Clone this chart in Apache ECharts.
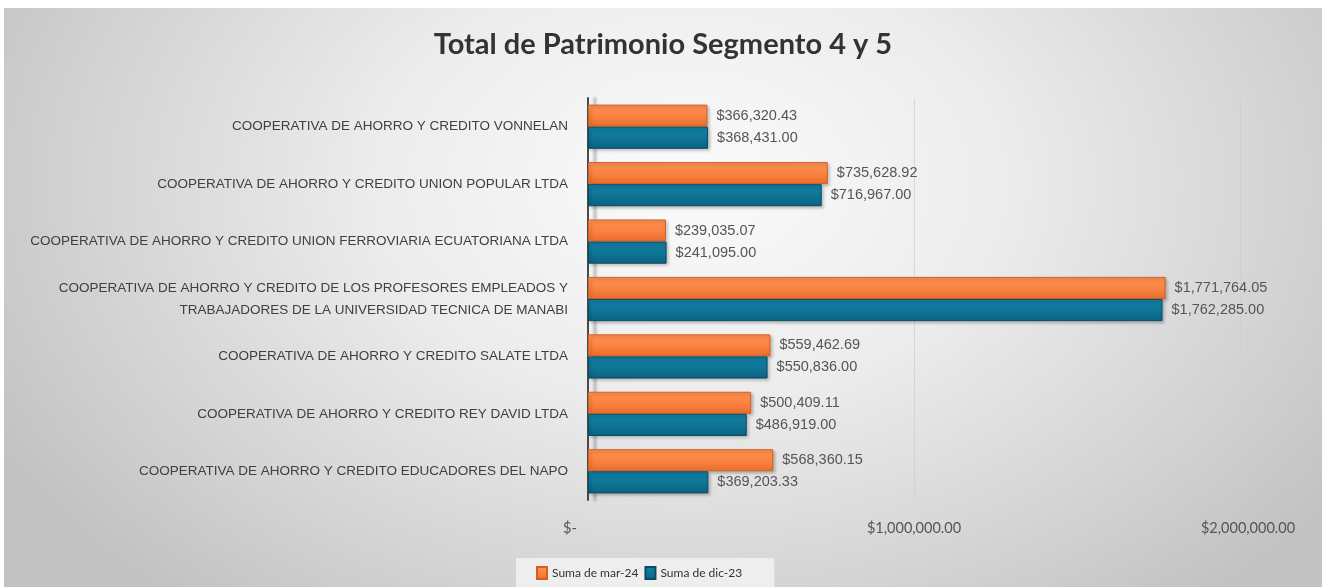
<!DOCTYPE html>
<html>
<head>
<meta charset="utf-8">
<script src="https://cdn.jsdelivr.net/npm/echarts@6/dist/echarts.min.js"></script>
<style>
  html, body { margin: 0; padding: 0; background: #ffffff; }
  #wrap { position: absolute; left: 4px; top: 8px; width: 1318px; height: 579px;
    background: radial-gradient(ellipse 60% 95% at 52% 30%, #fbfbfb 0%, #ececec 40%, #d4d4d4 75%, #c2c2c2 100%); }
  #chart { position: absolute; left: -4px; top: -8px; width: 1326px; height: 587px; }
</style>
</head>
<body>
<div id="wrap"><div id="chart"></div></div>
<script>
const categories = [
  'COOPERATIVA DE AHORRO Y CREDITO VONNELAN',
  'COOPERATIVA DE AHORRO Y CREDITO UNION POPULAR LTDA',
  'COOPERATIVA DE AHORRO Y CREDITO UNION FERROVIARIA ECUATORIANA LTDA',
  'COOPERATIVA DE AHORRO Y CREDITO DE LOS PROFESORES EMPLEADOS Y\nTRABAJADORES DE LA UNIVERSIDAD TECNICA DE MANABI',
  'COOPERATIVA DE AHORRO Y CREDITO SALATE LTDA',
  'COOPERATIVA DE AHORRO Y CREDITO REY DAVID LTDA',
  'COOPERATIVA DE AHORRO Y CREDITO EDUCADORES DEL NAPO'
];
const seriesNames = ['Suma de mar-24', 'Suma de dic-23'];
const mar24 = [366320.43, 735628.92, 239035.07, 1771764.05, 559462.69, 500409.11, 568360.15];
const dic23 = [368431.00, 716967.00, 241095.00, 1762285.00, 550836.00, 486919.00, 369203.33];
const xTicks = [0, 1000000, 2000000];

function money(v) {
  if (v === 0) return '$-';
  return '$' + v.toLocaleString('en-US', { minimumFractionDigits: 2, maximumFractionDigits: 2 });
}

const chart = echarts.init(document.getElementById('chart'));
const labelFont = { color: '#555555', fontSize: 14.5, fontFamily: 'Liberation Sans, Arial, sans-serif' };

chart.setOption({
  backgroundColor: 'transparent',
  animation: false,
  title: {
    text: 'Total de Patrimonio Segmento 4 y 5',
    left: 'center',
    top: 25,
    textStyle: { fontFamily: 'Lato, Open Sans, sans-serif', fontWeight: 'bold', fontSize: 29, color: '#333333' }
  },
  legend: {
    data: seriesNames,
    left: 516,
    top: 558,
    backgroundColor: 'rgba(242,242,242,0.85)',
    padding: [8, 32, 9, 20],
    itemWidth: 10,
    itemHeight: 12,
    itemGap: 6,
    icon: 'rect',
    textStyle: { color: '#333333', fontSize: 12, fontFamily: 'Lato, Open Sans, sans-serif' }
  },
  grid: { left: 588, right: 86, top: 98, bottom: 87, containLabel: false },
  xAxis: {
    type: 'value',
    min: xTicks[0],
    max: xTicks[xTicks.length - 1],
    interval: 1000000,
    axisLine: { show: false },
    axisTick: { show: false },
    axisLabel: {
      margin: 21,
      color: '#555555',
      fontSize: 14.5,
      fontFamily: 'Lato, Open Sans, sans-serif',
      formatter: function (v) {
        if (v === xTicks[0]) return '{l|' + money(v) + '}';
        if (v === xTicks[2]) return '{r|' + money(v) + '}';
        return money(v);
      },
      rich: {
        l: { padding: [0, 36, 0, 0], color: '#555555', fontSize: 14.5, fontFamily: 'Lato, Open Sans, sans-serif' },
        r: { padding: [0, 0, 0, 16], color: '#555555', fontSize: 14.5, fontFamily: 'Lato, Open Sans, sans-serif' }
      }
    },
    splitLine: { show: true, lineStyle: { color: 'rgba(205,205,205,0.7)', width: 1 } }
  },
  yAxis: {
    type: 'category',
    data: categories,
    inverse: true,
    axisTick: { show: false },
    axisLine: {
      show: true,
      lineStyle: { color: '#4a4a4a', width: 2, shadowColor: 'rgba(0,0,0,0.35)', shadowBlur: 3, shadowOffsetX: 7 }
    },
    axisLabel: {
      margin: 20,
      color: '#404040',
      fontSize: 13.5,
      lineHeight: 22,
      fontFamily: 'Liberation Sans, Arial, sans-serif',
      align: 'right'
    }
  },
  series: [
    {
      name: seriesNames[0],
      type: 'bar',
      data: mar24,
      barGap: '0%',
      barCategoryGap: '23%',
      itemStyle: {
        color: {
          type: 'linear', x: 0, y: 0, x2: 0, y2: 1,
          colorStops: [{ offset: 0, color: '#ff9255' }, { offset: 0.5, color: '#fb8341' }, { offset: 1, color: '#e96d2c' }]
        },
        borderColor: '#d55f1f',
        borderWidth: 1,
        shadowColor: 'rgba(0,0,0,0.25)',
        shadowBlur: 3,
        shadowOffsetX: 2,
        shadowOffsetY: 2
      },
      label: Object.assign({ show: true, position: 'right', distance: 9, offset: [0, 0], formatter: p => money(p.value) }, labelFont)
    },
    {
      name: seriesNames[1],
      type: 'bar',
      data: dic23,
      itemStyle: {
        color: {
          type: 'linear', x: 0, y: 0, x2: 0, y2: 1,
          colorStops: [{ offset: 0, color: '#1280a3' }, { offset: 0.5, color: '#0f7697' }, { offset: 1, color: '#0b6282' }]
        },
        borderColor: '#0a4a62',
        borderWidth: 1,
        shadowColor: 'rgba(0,0,0,0.25)',
        shadowBlur: 3,
        shadowOffsetX: 2,
        shadowOffsetY: 2
      },
      label: Object.assign({ show: true, position: 'right', distance: 9, offset: [0, 0], formatter: p => money(p.value) }, labelFont)
    }
  ]
});
</script>
</body>
</html>
